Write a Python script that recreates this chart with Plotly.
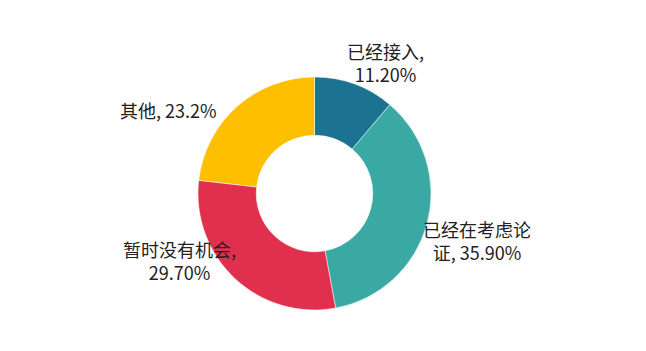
import plotly.graph_objects as go

categories = ["已经接入", "已经在考虑论证", "暂时没有机会", "其他"]
values = [11.2, 35.9, 29.7, 23.2]
value_labels = ["11.20%", "35.90%", "29.70%", "23.2%"]
colors = ["#1c7391", "#3aa9a4", "#e0304e", "#fdbf00"]

W, H = 646, 351
ML, MR, MT, MB = 0, 17, 77, 41
fig = go.Figure(go.Pie(
    labels=categories,
    values=values,
    hole=0.5,
    sort=False,
    direction="clockwise",
    rotation=0,
    marker=dict(colors=colors, line=dict(color="white", width=0.5)),
    textinfo="none",
    showlegend=False,
))

label_texts = [
    f"{categories[0]},<br>{value_labels[0]}",
    f"{categories[1][:-1]}<br>{categories[1][-1]}, {value_labels[1]}",
    f"{categories[2]},<br>{value_labels[2]}",
    f"{categories[3]}, {value_labels[3]}",
]
label_pos = [(385, 63), (477, 240), (179, 260), (168, 110)]
pw, ph = W - ML - MR, H - MT - MB
for t, (px, py) in zip(label_texts, label_pos):
    fig.add_annotation(
        text=t, x=(px - ML) / pw, y=1 - (py - MT) / ph, xref="paper", yref="paper",
        showarrow=False, xanchor="center", yanchor="middle", align="center",
        font=dict(size=18, color="#222222", family="Noto Sans CJK SC"),
    )

fig.update_layout(
    width=W, height=H,
    margin=dict(l=ML, r=MR, t=MT, b=MB),
    paper_bgcolor="white", plot_bgcolor="white",
    font=dict(family="Noto Sans CJK SC"),
)
fig.write_html("out.html")
